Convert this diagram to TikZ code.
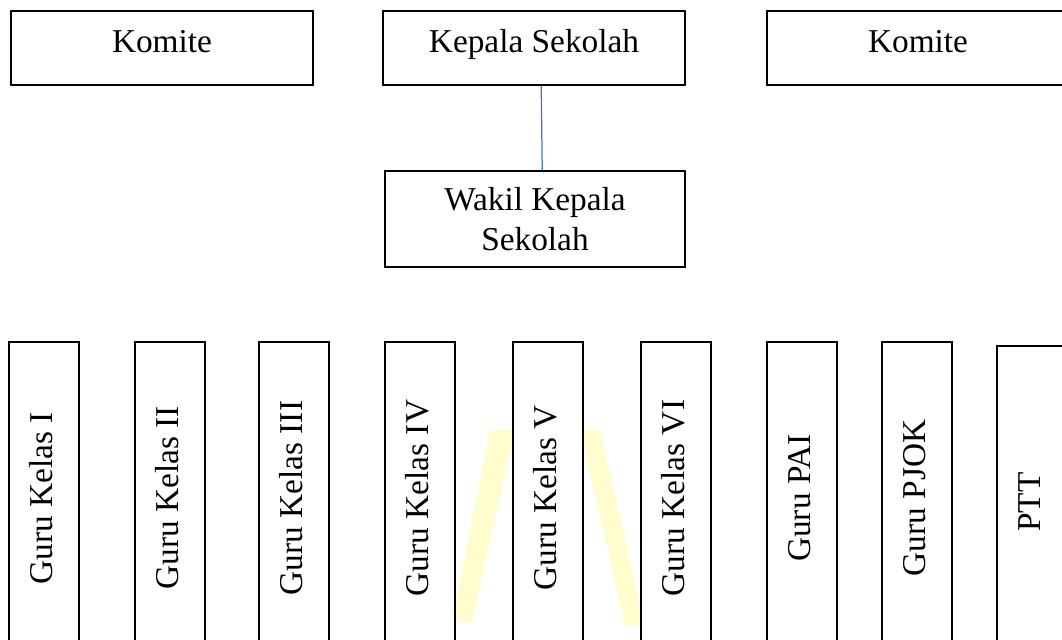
\documentclass[tikz,border=0pt]{standalone}
\usepackage{fontspec}
\setmainfont{Liberation Serif}
\definecolor{linkblue}{RGB}{68, 114, 196}
\definecolor{watermark}{RGB}{255, 252, 205}

\begin{document}
\begin{tikzpicture}[x=0.36pt, y=-0.36pt,
        boxline/.style={draw, line width=0.7pt, fill=white, inner sep=0pt, font=\fontsize{12}{14.4}\selectfont},
        topbox/.style={boxline, minimum width=108.4pt, minimum height=26.6pt, text height=8.5pt, text depth=4.9pt},
        wakilbox/.style={boxline, minimum width=108pt, minimum height=34.6pt, align=center},
        guru/.style={boxline, rotate=90, minimum width=112.3pt, minimum height=25.2pt, text height=8.5pt, text depth=2.5pt},
        link/.style={linkblue, line width=0.45pt}]
        \useasboundingbox (0,0) rectangle (1062,639);
        \clip (0,0) rectangle (1062,639);

        % faint watermark behind the staff row
        \fill[watermark] (490,430) -- (515,430) -- (472,622) -- (452,622) -- cycle;
        \fill[watermark] (580,430) -- (600,430) -- (645,625) -- (625,625) -- cycle;

        % top row
        \node[topbox] (komiteL) at (162,48) {Komite};
        \node[topbox] (kepala)  at (534,48) {Kepala Sekolah};
        \node[topbox] (komiteR) at (918,48) {Komite};

        \node[wakilbox] (wakil) at (535,219) {Wakil Kepala\\Sekolah};
        \draw[link] ([xshift=2.6pt]kepala.south) -- ([xshift=2.6pt]wakil.north);

        % staff row
        \foreach \n/\x/\t in {guruI/44/{Guru Kelas I}, guruII/170/{Guru Kelas II}, guruIII/294/{Guru Kelas III},
                              guruIV/420/{Guru Kelas IV}, guruV/548/{Guru Kelas V}, guruVI/676/{Guru Kelas VI},
                              guruPAI/802/{Guru PAI}, guruPJOK/917/{Guru PJOK}} {
            \node[guru] (\n) at (\x,498) {\t};
        }
        \node[guru] (ptt) at (1032,502) {PTT};
    \end{tikzpicture}
\end{document}
